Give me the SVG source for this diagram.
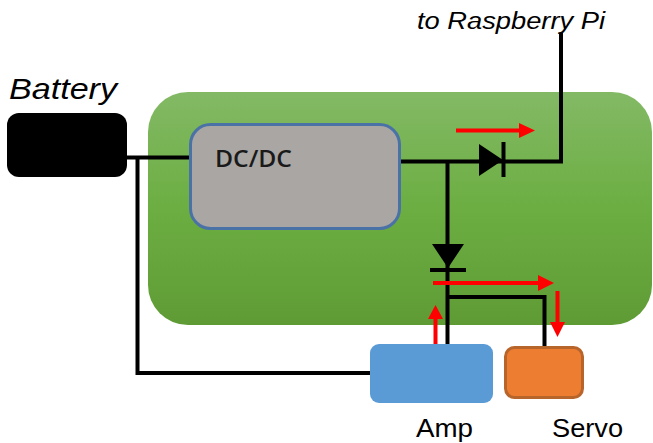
<svg xmlns="http://www.w3.org/2000/svg" width="653" height="443" viewBox="0 0 653 443">
<style>
.lbl{font-family:"Liberation Sans",Arial,sans-serif;fill:#000}
.it{font-style:italic}
.w{fill:none;stroke:#000;stroke-width:4}
.r{fill:none;stroke:#f00;stroke-width:4}
.rh{fill:#f00}
</style>
<defs>
<linearGradient id="g" x1="0" y1="0" x2="0" y2="1">
<stop offset="0" stop-color="#83b965"/>
<stop offset="0.5" stop-color="#6cae42"/>
<stop offset="1" stop-color="#5f9b35"/>
</linearGradient>
</defs>
<rect width="653" height="443" fill="#fff"/>
<g id="board"><rect x="148" y="92" width="504" height="233" rx="40" fill="url(#g)"/></g>
<g id="connectors">
<path class="w" d="M127 157.500H190M137.500 157.500V373H370"/>
<path class="w" d="M400 161.500H561V33"/>
<path class="w" d="M447.500 161V345M447.500 297H544.500V347"/>
<path d="M479 144L503 160L479 176Z"/>
<path class="w" d="M503.500 142V177"/>
<path d="M432 244H464L448 268Z"/>
<path class="w" d="M430 270H466"/>
<path class="r" d="M456 130.500H520"/><path class="rh" d="M519 123L535 130.500L519 138Z"/>
<path class="r" d="M433 283H539"/><path class="rh" d="M538 275L554 283L538 291Z"/>
<path class="r" d="M557.500 291V323"/><path class="rh" d="M550 322H565L557.500 337Z"/>
<path class="r" d="M435.500 348V318"/><path class="rh" d="M428 319H443L435.500 305Z"/>
</g>
<g id="battery"><rect x="7" y="113" width="120" height="64" rx="12" fill="#000"/><text class="lbl it" x="9" y="99" font-size="30" textLength="108" lengthAdjust="spacingAndGlyphs">Battery</text></g>
<g id="dcdc"><rect x="190.500" y="124.500" width="209" height="104" rx="20" fill="#a9a6a4" stroke="#4a72a6" stroke-width="3"/><text x="215" y="167" font-size="24" font-weight="600" fill="#1a1a1a" font-family="'Open Sans','Noto Sans',sans-serif" textLength="77" lengthAdjust="spacingAndGlyphs">DC/DC</text></g>
<g id="amp"><rect x="370" y="344" width="123" height="59" rx="9" fill="#5b9bd5"/><text class="lbl" x="416" y="437" font-size="25" textLength="57" lengthAdjust="spacingAndGlyphs">Amp</text></g>
<g id="servo"><rect x="505.500" y="347.500" width="77" height="50" rx="9" fill="#ed7d31" stroke="#b8652c" stroke-width="3"/><text class="lbl" x="552" y="437" font-size="25" textLength="71" lengthAdjust="spacingAndGlyphs">Servo</text></g>
<g id="raspi"><text class="lbl it" x="417" y="29" font-size="23.500" textLength="188" lengthAdjust="spacingAndGlyphs">to Raspberry Pi</text></g>
</svg>
